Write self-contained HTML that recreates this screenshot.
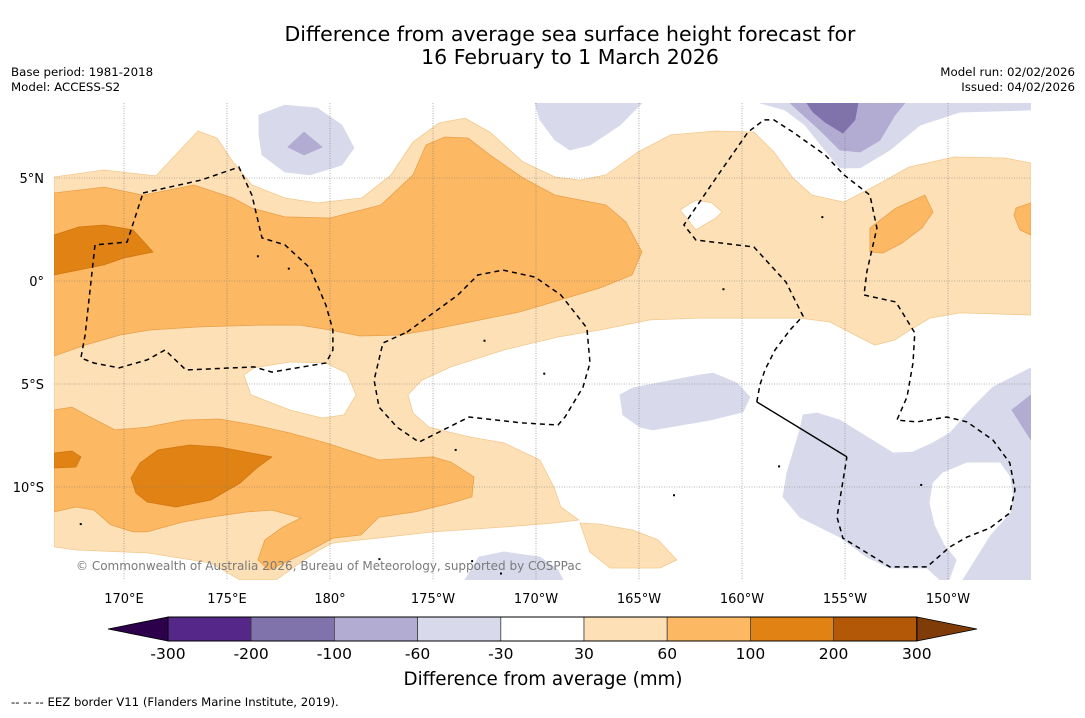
<!DOCTYPE html>
<html><head><meta charset="utf-8"><style>
body{margin:0;background:#fff;}
svg text{font-family:"DejaVu Sans","Liberation Sans",sans-serif;}
</style></head><body>
<svg id="chart" width="1085" height="713" viewBox="0 0 1085 713" xmlns="http://www.w3.org/2000/svg">
<rect width="1085" height="713" fill="#fff"/>
<text x="570" y="41" font-size="20.5" text-anchor="middle">Difference from average sea surface height forecast for</text>
<text x="570" y="64" font-size="20.5" text-anchor="middle">16 February to 1 March 2026</text>
<text x="11" y="76" font-size="11.8">Base period: 1981-2018</text>
<text x="11" y="91" font-size="11.8">Model: ACCESS-S2</text>
<text x="1075" y="76" font-size="11.8" text-anchor="end">Model run: 02/02/2026</text>
<text x="1075" y="91" font-size="11.8" text-anchor="end">Issued: 04/02/2026</text>
<defs><clipPath id="mapclip"><rect x="54" y="103" width="977" height="477"/></clipPath></defs>
<g id="map" clip-path="url(#mapclip)"></g>
<g id="axes"></g>
<g id="cbar"></g>
<text x="543" y="685" font-size="18.3" text-anchor="middle">Difference from average (mm)</text>
<text x="11" y="706" font-size="11.7">--  --  -- EEZ border V11 (Flanders Marine Institute, 2019).</text>
</svg>
<script>
// ---- axis data ----
const lonTicks=[170,175,180,185,190,195,200,205,210];
const lonLabels=["170°E","175°E","180°","175°W","170°W","165°W","160°W","155°W","150°W"];
const latTicks=[5,0,-5,-10];
const latLabels=["5°N","0°","5°S","10°S"];
const cbBounds=[-300,-200,-100,-60,-30,30,60,100,200,300];
const cbColors=["#542788","#8073ac","#b2abd2","#d8daeb","#ffffff","#fee0b6","#fdb863","#e08214","#b35806"];
const cbUnder="#2d004b", cbOver="#7f3b08";
// contour polygons [lon(0-360), lat], with level colour
const LO1=[[166.6,5.05],[169.03,5.39],[171.55,5.10],[173.59,7.28],[174.51,6.94],[175.29,5.78],[176.21,4.66],[177.81,4.03],[179.37,3.79],[181.55,4.03],[182.96,5.15],[184.03,6.75],[185.29,7.67],[186.55,7.91],[187.76,7.23],[189.37,5.78],[190.92,5.05],[192.13,4.90],[193.40,5.15],[194.95,6.26],[196.55,7.09],[198.74,7.28],[200.58,7.23],[201.55,6.26],[202.47,5.0],[203.40,4.17],[204.95,3.83],[206.55,4.66],[208.10,5.53],[210.29,6.02],[212.76,5.97],[214.03,5.73],[214.03,-1.65],[210.58,-1.55],[209.12,-1.80],[208.15,-2.38],[207.42,-2.86],[206.45,-3.11],[205.48,-2.62],[204.27,-1.99],[202.81,-1.80],[200.39,-1.80],[197.96,-1.80],[195.53,-1.89],[193.10,-2.38],[191.07,-2.72],[188.44,-3.35],[185.87,-4.17],[184.46,-4.81],[183.78,-5.53],[184.03,-6.41],[184.80,-7.09],[186.75,-7.57],[188.44,-7.86],[190.19,-8.69],[190.87,-10.0],[191.21,-10.97],[192.08,-11.60],[190.87,-11.75],[188.44,-11.94],[185.0,-12.18],[181.50,-12.57],[180.14,-12.72],[179.47,-13.06],[178.74,-13.54],[178.06,-14.03],[177.38,-14.51],[175.63,-14.51],[174.22,-13.69],[171.12,-13.20],[167.67,-13.06],[166.6,-12.91]];
const W1=[[175.82,-4.56],[176.31,-4.22],[178.06,-3.93],[179.80,-3.98],[180.82,-4.47],[181.26,-5.53],[180.68,-6.50],[179.61,-6.65],[178.06,-6.26],[176.16,-5.53]];
const W2=[[196.99,3.45],[197.76,3.93],[198.54,3.79],[199.03,3.35],[198.74,3.06],[197.76,2.48]];
const MO1=[[166.6,4.27],[169.03,4.56],[170.92,4.17],[173.40,4.66],[175.29,4.03],[176.21,3.54],[177.81,3.11],[180.0,3.06],[182.47,3.69],[184.03,5.15],[184.66,6.60],[185.58,6.99],[186.70,6.94],[187.76,6.12],[189.37,5.0],[190.92,4.17],[193.40,3.69],[194.37,2.86],[195.14,1.41],[194.66,0.29],[193.10,-0.34],[191.16,-0.92],[189.22,-1.50],[186.79,-1.99],[184.85,-2.38],[183.40,-2.62],[181.46,-2.67],[180.0,-2.38],[178.54,-2.14],[176.60,-2.14],[173.69,-2.23],[171.26,-2.38],[169.81,-2.62],[168.11,-3.11],[166.6,-3.64]];
const DO1=[[166.6,2.23],[167.81,2.62],[169.03,2.72],[170.44,2.48],[171.41,1.41],[170.0,1.12],[169.03,0.78],[166.6,0.29]];
const MO2=[[166.6,-6.26],[167.47,-6.12],[168.35,-6.60],[169.56,-7.23],[171.12,-7.09],[172.86,-6.75],[174.61,-6.70],[176.31,-6.99],[178.06,-7.38],[179.80,-7.86],[182.38,-8.69],[185.0,-8.54],[185.87,-8.79],[186.99,-9.51],[186.89,-10.48],[185.87,-10.78],[184.12,-11.21],[182.38,-11.46],[181.50,-12.33],[180.14,-12.48],[179.08,-13.06],[178.06,-13.54],[177.04,-14.03],[176.50,-13.54],[176.84,-12.57],[177.72,-11.94],[178.59,-11.50],[177.18,-11.12],[175.97,-11.21],[174.22,-11.46],[172.86,-11.70],[171.12,-12.18],[170.44,-12.18],[169.37,-11.84],[168.54,-11.12],[167.67,-10.97],[166.6,-11.21]];
const DO2=[[170.34,-9.56],[170.78,-8.83],[171.65,-8.20],[173.20,-7.96],[174.61,-8.06],[177.18,-8.54],[176.50,-9.03],[175.63,-9.81],[174.22,-10.63],[172.52,-10.97],[171.12,-10.73],[170.58,-10.29]];
const DO3=[[166.6,-8.35],[167.47,-8.25],[167.91,-8.54],[167.67,-9.03],[166.6,-9.08]];
const MO3=[[206.21,2.57],[207.47,3.54],[208.88,4.17],[209.27,3.35],[208.73,2.57],[207.76,1.84],[206.84,1.36],[206.21,1.41]];
const MO4=[[213.20,3.20],[213.30,3.54],[214.03,3.79],[214.03,2.23],[213.49,2.48]];
const LO2=[[192.13,-11.75],[193.10,-11.80],[194.70,-12.09],[195.92,-12.57],[196.84,-13.54],[196.02,-13.93],[193.59,-13.93],[192.62,-13.15]];
const LP1=[[176.55,8.06],[177.81,8.54],[179.37,8.40],[180.58,7.57],[181.16,6.46],[180.58,5.63],[179.03,5.15],[177.81,5.29],[176.70,6.12],[176.55,7.09]];
const MP1=[[177.96,6.50],[178.74,7.23],[179.61,6.50],[178.74,6.12]];
const LP2=[[189.95,8.64],[195.14,8.64],[194.08,7.57],[192.62,6.60],[191.65,6.36],[190.92,6.84],[190.19,7.82]];
const LP3=[[200.87,8.64],[214.03,8.64],[214.03,8.30],[210.58,8.20],[208.64,7.57],[207.18,6.36],[205.73,5.49],[204.75,5.49],[204.03,6.36],[203.06,7.57],[202.09,8.30]];
const MP3=[[202.33,8.64],[207.91,8.64],[207.42,8.06],[206.70,6.84],[205.73,6.26],[204.75,6.36],[203.78,7.33],[202.81,8.20]];
const DP3=[[203.15,8.64],[205.63,8.64],[205.48,7.82],[204.90,7.18],[204.03,7.72],[203.45,8.20]];
const LP4=[[194.08,-5.53],[194.70,-5.19],[197.96,-4.56],[198.59,-4.47],[199.75,-4.95],[200.39,-5.63],[200.05,-6.36],[198.45,-6.75],[195.68,-7.23],[195.05,-7.09],[194.22,-6.50]];
const LP5=[[202.96,-6.50],[203.64,-6.41],[204.75,-6.75],[206.06,-7.57],[207.33,-8.35],[208.30,-8.30],[209.27,-7.86],[210.09,-7.38],[211.21,-6.12],[212.18,-5.15],[214.03,-4.22],[214.03,-14.51],[209.61,-14.51],[208.98,-13.93],[207.18,-13.93],[206.06,-13.40],[204.75,-12.43],[202.81,-11.46],[201.99,-10.48],[202.18,-9.32],[202.81,-7.23]];
const W3=[[209.12,-10.78],[209.27,-9.81],[209.75,-9.32],[210.92,-8.83],[212.52,-8.83],[213.0,-9.51],[213.15,-10.48],[213.0,-11.26],[212.04,-12.33],[210.68,-14.51],[210.09,-14.51],[210.44,-13.54],[209.85,-12.81],[209.37,-11.84]];
const MP5=[[213.10,-6.26],[214.03,-5.53],[214.03,-7.72]];
const LP6=[[186.55,-14.51],[187.23,-13.40],[188.44,-13.15],[190.19,-13.40],[191.07,-14.03],[191.31,-14.51]];
// EEZ borders
const EEZ_A=[[170.92,4.27],[173.74,4.90],[175.58,5.53],[176.21,4.17],[176.70,2.09],[177.81,1.75],[179.03,0.63],[179.80,-1.17],[180.14,-2.38],[180.14,-3.35],[179.80,-3.98],[177.18,-4.42],[176.31,-4.17],[173.01,-4.32],[171.99,-3.35],[171.12,-3.83],[169.76,-4.22],[168.54,-3.98],[167.91,-3.74],[168.11,-2.62],[168.59,1.75],[170.15,1.89],[170.92,4.27]];
const EEZ_B=[[183.74,-2.48],[186.21,-0.68],[187.18,0.29],[188.40,0.53],[189.95,0.19],[191.21,-0.68],[192.47,-2.28],[192.62,-3.98],[192.28,-5.15],[191.41,-6.60],[191.07,-6.99],[189.32,-6.89],[186.75,-6.60],[184.32,-7.82],[183.25,-7.09],[182.38,-6.12],[182.14,-4.81],[182.57,-3.01],[183.74,-2.48]];
const EEZ_C=[[200.72,-5.87],[200.87,-5.05],[201.11,-4.32],[201.60,-3.35],[202.33,-2.38],[202.96,-1.70],[202.13,-0.05],[200.58,1.65],[197.76,1.99],[197.18,2.72],[198.74,5.0],[200.29,7.23],[201.07,7.82],[201.55,7.82],[202.47,7.23],[204.03,6.12],[204.95,5.15],[206.21,4.17],[206.55,2.57],[206.06,0.44],[205.92,-0.68],[207.47,-1.02],[208.39,-2.52],[208.30,-3.98],[208.01,-5.63],[207.52,-6.75],[208.49,-6.84],[209.95,-6.60],[210.92,-6.84],[212.18,-7.72],[213.0,-8.83],[213.25,-10.14],[213.0,-11.26],[212.04,-11.99],[210.92,-12.43],[210.09,-12.91],[208.98,-13.88],[207.18,-13.88],[204.90,-12.48],[204.61,-11.46],[205.09,-8.54]];
const EEZ_SOLID=[[205.09,-8.54],[200.72,-5.87]];
// small islands
const islands=[[187.5,-2.9],[190.4,-4.5],[186.1,-8.2],[196.7,-10.4],[208.7,-9.9],[201.8,-9.0],[203.9,3.1],[199.1,-0.4],[178.0,0.6],[176.5,1.2],[167.9,-11.8],[186.9,-13.6],[188.3,-14.2],[182.4,-13.5]];

const NS="http://www.w3.org/2000/svg";
const X=lon=>124+(lon-170)*20.6;
const Y=lat=>281-lat*20.6;
const map=document.getElementById('map');
function mk(tag,attrs,parent){const e=document.createElementNS(NS,tag);for(const k in attrs)e.setAttribute(k,attrs[k]);parent.appendChild(e);return e;}
function pts(arr){return arr.map(p=>X(p[0]).toFixed(1)+','+Y(p[1]).toFixed(1)).join(' ');}
const fills=[
 [LO1,cbColors[5],'#f2c98f','contour-30-60-main'],[W1,'#ffffff','#f2c98f','contour-neutral-hole-west'],[W2,'#ffffff','#f2c98f','contour-neutral-hole-east'],
 [MO1,cbColors[6],'#e9a04a','contour-60-100-equatorial'],[DO1,cbColors[7],'#d0760f','contour-100-200-west'],
 [MO2,cbColors[6],'#e9a04a','contour-60-100-south'],[DO2,cbColors[7],'#d0760f','contour-100-200-south'],[DO3,cbColors[7],'#d0760f','contour-100-200-edge'],
 [MO3,cbColors[6],'#e9a04a','contour-60-100-east'],[MO4,cbColors[6],'#e9a04a','contour-60-100-far-east'],[LO2,cbColors[5],'#f2c98f','contour-30-60-south-patch'],
 [LP1,cbColors[3],'#d8daeb','contour-neg30-60-north-west'],[MP1,cbColors[2],'#b2abd2','contour-neg60-100-north-west'],
 [LP2,cbColors[3],'#d8daeb','contour-neg30-60-north-mid'],[LP3,cbColors[3],'#d8daeb','contour-neg30-60-north-east'],
 [MP3,cbColors[2],'#b2abd2','contour-neg60-100-north-east'],[DP3,cbColors[1],'#8073ac','contour-neg100-200-north-east'],
 [LP4,cbColors[3],'#d8daeb','contour-neg30-60-central'],[LP5,cbColors[3],'#d8daeb','contour-neg30-60-south-east'],
 [W3,'#ffffff','#ffffff','contour-neutral-hole-south-east'],[MP5,cbColors[2],'#b2abd2','contour-neg60-100-south-east'],[LP6,cbColors[3],'#d8daeb','contour-neg30-60-south']
];
fills.forEach(f=>{
 const e=mk('polygon',{points:pts(f[0]),fill:f[1],stroke:f[2],'stroke-width':0.8,'stroke-linejoin':'round'},map);
 
 
});
// gridlines
lonTicks.forEach(l=>{const e=mk('line',{x1:X(l),x2:X(l),y1:103,y2:580,stroke:'#777','stroke-width':0.6,'stroke-dasharray':'1,1.5'},map);
 
 });
latTicks.forEach(l=>{const e=mk('line',{x1:54,x2:1031,y1:Y(l),y2:Y(l),stroke:'#777','stroke-width':0.6,'stroke-dasharray':'1,1.5'},map);
 
 });
// islands
islands.forEach(p=>{const e=mk('rect',{x:X(p[0])-1,y:Y(p[1])-1,width:2,height:2,fill:'#000'},map);
 
 });
// EEZ
[EEZ_A,EEZ_B,EEZ_C].forEach(a=>{const e=mk('polyline',{points:pts(a),fill:'none',stroke:'#000','stroke-width':1.5,'stroke-dasharray':'5,4'},map);
 
 });
const es=mk('polyline',{points:pts(EEZ_SOLID),fill:'none',stroke:'#000','stroke-width':1.4},map);


const cp=mk('text',{x:76,y:570,'font-size':12,fill:'#7a7a7a'},map);
cp.textContent='© Commonwealth of Australia 2026, Bureau of Meteorology, supported by COSPPac';


// axis labels
const axes=document.getElementById('axes');
lonTicks.forEach((l,i)=>{const t=mk('text',{x:X(l),y:603,'font-size':13,'text-anchor':'middle'},axes);t.textContent=lonLabels[i];
 
 });
latTicks.forEach((l,i)=>{const t=mk('text',{x:44,y:Y(l)+5,'font-size':13,'text-anchor':'end'},axes);t.textContent=latLabels[i];
 
 });
// colorbar
const cb=document.getElementById('cbar');
const cx0=168,cw=83.2,cy=617,ch=24;
const CX=i=>cx0+i*cw;
const u=mk('polygon',{points:`${cx0},${cy} ${cx0},${cy+ch} 108,${cy+ch/2}`,fill:cbUnder,stroke:'#000','stroke-width':0.8},cb);


cbColors.forEach((c,i)=>{const r=mk('rect',{x:CX(i),y:cy,width:cw,height:ch,fill:c,stroke:'#444','stroke-width':0.8},cb);
 
 });
const ox=CX(cbColors.length);
const o=mk('polygon',{points:`${ox},${cy} ${ox},${cy+ch} 977,${cy+ch/2}`,fill:cbOver,stroke:'#000','stroke-width':0.8},cb);


mk('rect',{x:cx0,y:cy,width:cw*cbColors.length,height:ch,fill:'none',stroke:'#000','stroke-width':1},cb);
cbBounds.forEach((b,i)=>{const t=mk('text',{x:CX(i),y:659,'font-size':15.5,'text-anchor':'middle'},cb);t.textContent=b;
 
 });
</script>
</body></html>
